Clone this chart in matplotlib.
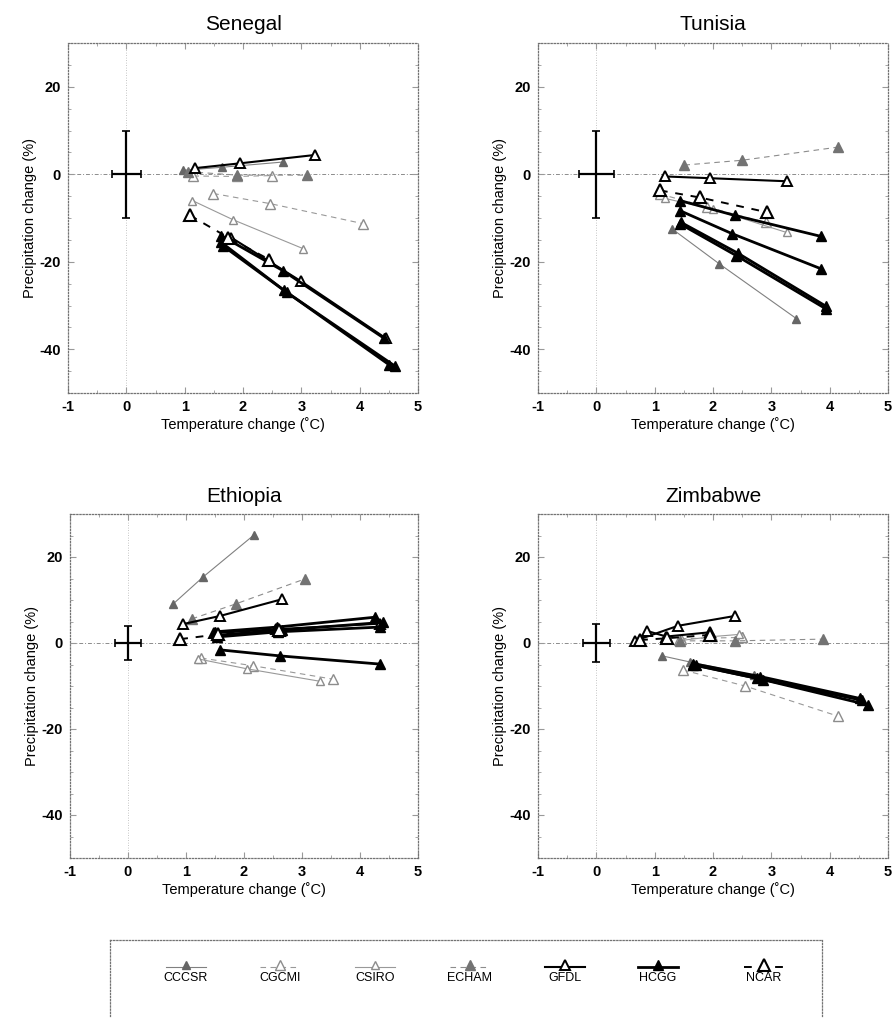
import matplotlib
matplotlib.use("Agg")
import matplotlib.pyplot as plt

plt.rcParams["font.family"] = ["Liberation Sans", "DejaVu Sans"]
plt.rcParams["axes.unicode_minus"] = False

MODELS = ["CCCSR", "CGCMI", "CSIRO", "ECHAM", "GFDL", "HCGG", "NCAR"]

# each model: list of runs, each run = (temps, precip) at three time slices
SENEGAL = {
    "CCCSR": [([0.97, 1.64, 2.69], [0.9, 1.6, 2.8])],
    "CGCMI": [([1.49, 2.46, 4.06], [-4.4, -6.7, -11.3]),
              ([1.15, 1.9, 2.5], [-0.4, -0.5, -0.3])],
    "CSIRO": [([1.13, 1.83, 3.03], [-6.0, -10.4, -17.0])],
    "ECHAM": [([1.05, 1.9, 3.1], [0.6, -0.2, -0.2])],
    "GFDL": [([1.18, 1.95, 3.23], [1.4, 2.5, 4.4]),
             ([1.8, 3.0, 4.45], [-14.5, -24.5, -37.5])],
    "HCGG": [([1.62, 2.68, 4.42], [-14.0, -22.0, -37.5]),
             ([1.62, 2.7, 4.5], [-15.5, -26.5, -43.5]),
             ([1.65, 2.75, 4.6], [-16.3, -27.0, -43.8])],
    "NCAR": [([1.09, 1.75, 2.45], [-9.4, -14.5, -19.5])],
}

TUNISIA = {
    "CCCSR": [([1.29, 2.11, 3.43], [-12.4, -20.5, -33.0])],
    "CGCMI": [([1.09, 1.9, 2.9], [-4.5, -7.5, -11.0])],
    "CSIRO": [([1.17, 2.0, 3.26], [-5.5, -8.0, -13.3])],
    "ECHAM": [([1.51, 2.5, 4.14], [2.1, 3.2, 6.2])],
    "GFDL": [([1.17, 1.94, 3.26], [-0.5, -0.9, -1.6])],
    "HCGG": [([1.43, 2.37, 3.85], [-6.0, -9.4, -14.2]),
             ([1.43, 2.33, 3.85], [-8.3, -13.6, -21.6]),
             ([1.43, 2.4, 3.94], [-11.3, -18.6, -30.8]),
             ([1.45, 2.42, 3.94], [-11.0, -18.0, -30.2])],
    "NCAR": [([1.09, 1.77, 2.93], [-3.7, -5.3, -8.7])],
}

ETHIOPIA = {
    "CCCSR": [([0.78, 1.29, 2.17], [9.1, 15.3, 25.1])],
    "CGCMI": [([1.26, 2.16, 3.53], [-3.5, -5.3, -8.4])],
    "CSIRO": [([1.21, 2.05, 3.31], [-3.7, -6.0, -8.9])],
    "ECHAM": [([1.1, 1.86, 3.05], [5.6, 9.1, 14.9])],
    "GFDL": [([0.95, 1.59, 2.66], [4.4, 6.3, 10.2]),
             ([1.48, 2.55, 4.34], [2.3, 3.2, 4.5])],
    "HCGG": [([1.5, 2.57, 4.26], [2.6, 3.7, 6.0]),
             ([1.53, 2.59, 4.34], [1.4, 2.6, 3.7]),
             ([1.55, 2.65, 4.4], [1.8, 3.0, 4.8]),
             ([1.59, 2.62, 4.34], [-1.6, -3.0, -4.9])],
    "NCAR": [([0.9, 1.55, 2.6], [0.9, 2.0, 3.0])],
}

ZIMBABWE = {
    "CCCSR": [([1.13, 1.6, 2.7], [-3.0, -4.4, -7.5])],
    "CGCMI": [([1.49, 2.55, 4.14], [-6.3, -10.0, -17.0]),
              ([1.45, 2.5, 2.5], [1.0, 1.3, 1.3])],
    "CSIRO": [([1.4, 2.0, 2.45], [0.5, 1.5, 2.0])],
    "ECHAM": [([1.43, 2.38, 3.89], [0.5, 0.5, 0.9])],
    "GFDL": [([0.66, 1.4, 2.38], [0.5, 4.0, 6.3]),
             ([0.87, 1.2, 1.95], [2.8, 1.5, 2.5])],
    "HCGG": [([1.66, 2.81, 4.52], [-4.8, -7.8, -12.9]),
             ([1.7, 2.85, 4.66], [-5.2, -8.5, -14.4]),
             ([1.65, 2.75, 4.55], [-5.0, -8.2, -13.3])],
    "NCAR": [([0.75, 1.21, 1.95], [0.7, 1.1, 1.9])],
}

COUNTRIES = ["Senegal", "Tunisia", "Ethiopia", "Zimbabwe"]
COUNTRY_DATA = [SENEGAL, TUNISIA, ETHIOPIA, ZIMBABWE]
# natural variability cross at the origin: (dT, dP)
CROSS_XERR = [0.25, 0.3, 0.23, 0.23]
CROSS_YERR = [10.0, 10.0, 4.0, 4.5]

STYLE = {
    "CCCSR": dict(color="0.5", ls="-", lw=0.8, mfc="0.4", mec="0.4", ms=6),
    "CGCMI": dict(color="0.6", ls=(0, (5, 4)), lw=0.8, mfc="white", mec="0.55", ms=7),
    "CSIRO": dict(color="0.6", ls="-", lw=0.8, mfc="white", mec="0.55", ms=6),
    "ECHAM": dict(color="0.55", ls=(0, (5, 4)), lw=0.8, mfc="0.45", mec="0.45", ms=6.5),
    "GFDL": dict(color="black", ls="-", lw=1.5, mfc="white", mec="black", ms=7, mew=1.4),
    "HCGG": dict(color="black", ls="-", lw=2.0, mfc="black", mec="black", ms=7),
    "NCAR": dict(color="black", ls=(0, (4, 4)), lw=1.4, mfc="white", mec="black", ms=9, mew=1.5),
}

POSITIONS = [
    [68 / 894, 1 - 393 / 1018, 350 / 894, 350 / 1018],
    [538 / 894, 1 - 393 / 1018, 350 / 894, 350 / 1018],
    [70 / 894, 1 - 858 / 1018, 348 / 894, 344 / 1018],
    [538 / 894, 1 - 858 / 1018, 350 / 894, 344 / 1018],
]

fig = plt.figure(figsize=(8.94, 10.18), dpi=100)

for i, name in enumerate(COUNTRIES):
    ax = fig.add_axes(POSITIONS[i])
    data = COUNTRY_DATA[i]
    ax.axhline(0, color="0.55", lw=0.7, ls=(0, (4, 2, 1, 2)), zorder=1)
    ax.axvline(0, color="0.7", lw=0.6, ls=(0, (1, 2)), zorder=1)
    for model in MODELS:
        st = STYLE[model]
        for xs, ys in data.get(model, []):
            ax.plot(xs, ys, marker="^", color=st["color"], ls=st["ls"], lw=st["lw"],
                    mfc=st["mfc"], mec=st["mec"], ms=st["ms"], mew=st.get("mew", 1.0),
                    zorder=3 if st["color"] == "black" else 2)
    ax.errorbar([0], [0], xerr=[CROSS_XERR[i]], yerr=[CROSS_YERR[i]], fmt="none",
                ecolor="black", elinewidth=1.6, capsize=3, capthick=1.2, zorder=4)
    ax.set_xlim(-1, 5)
    ax.set_ylim(-50, 30)
    ax.set_xticks(range(-1, 6))
    ax.set_yticks([-40, -20, 0, 20])
    ax.set_xticks([x + 0.5 for x in range(-1, 5)], minor=True)
    ax.set_yticks(range(-50, 31, 5), minor=True)
    ax.tick_params(which="both", direction="in", color="0.6", top=True, right=True)
    ax.tick_params(which="major", length=4, labelsize=10.5, pad=5)
    ax.tick_params(which="minor", length=2)
    for lbl in ax.get_xticklabels() + ax.get_yticklabels():
        lbl.set_fontweight("bold")
    for sp in ax.spines.values():
        sp.set_linestyle((0, (1, 1.5)))
        sp.set_color("0.45")
        sp.set_linewidth(0.9)
    ax.set_title(name, fontsize=15, pad=9)
    ax.set_xlabel("Temperature change (\u02daC)", fontsize=10.5, labelpad=2)
    ax.set_ylabel("Precipitation change (%)", fontsize=10.5, labelpad=2)

# legend box with symbols above names
lax = fig.add_axes([110 / 894, 1 - 1016 / 1018, 712 / 894, 76 / 1018])
lax.set_xlim(0, 712)
lax.set_ylim(76, 0)
lax.set_xticks([])
lax.set_yticks([])
for sp in lax.spines.values():
    sp.set_linestyle((0, (1, 1.5)))
    sp.set_color("0.45")
    sp.set_linewidth(0.9)
lax.spines["bottom"].set_visible(False)
legend_x = [76, 170, 265, 360, 455, 548, 654]
for lx, model in zip(legend_x, MODELS):
    st = STYLE[model]
    lax.plot([lx - 20, lx + 20], [27, 27], color=st["color"], ls=st["ls"], lw=st["lw"])
    lax.plot([lx], [25], marker="^", color=st["color"], ls="none", mfc=st["mfc"],
             mec=st["mec"], ms=st["ms"], mew=st.get("mew", 1.0))
    lax.text(lx, 38, model, ha="center", va="center", fontsize=9)

fig.savefig("out.png", dpi=100)
